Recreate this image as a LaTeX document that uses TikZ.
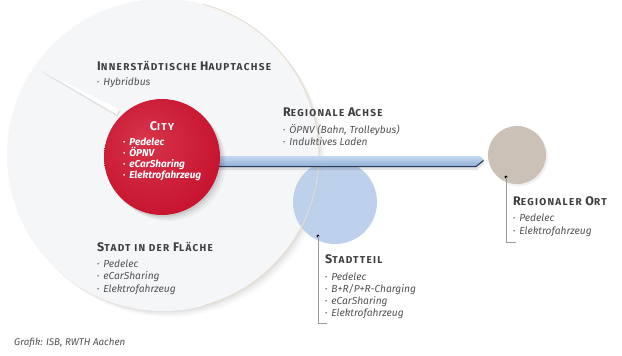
\documentclass[tikz,border=0pt]{standalone}
\usepackage{fontspec}
\setmainfont{Fira Sans}
\newfontfamily\headfont{Fira Sans}[LetterSpace=13]
\usetikzlibrary{calc}

\definecolor{cityred}{HTML}{C7132F}
\definecolor{citylight}{HTML}{D6354B}
\definecolor{citydark}{HTML}{A30D26}
\definecolor{teilblue}{HTML}{B8CDEA}
\definecolor{ortgray}{HTML}{CBC1B7}
\definecolor{headgray}{HTML}{3E3E3E}
\definecolor{itemgray}{HTML}{535353}
\definecolor{rimbeige}{HTML}{E6DCCD}
\definecolor{discfill}{HTML}{F4F6F8}
\definecolor{barlight}{HTML}{C6D8EF}
\definecolor{barmid}{HTML}{8CACD6}
\definecolor{bardark}{HTML}{2E3B52}
\definecolor{leadgray}{HTML}{9A9A9A}

\pgfdeclareradialshading{cityball}{\pgfpoint{-8bp}{8bp}}{%
  color(0bp)=(citylight); color(30bp)=(cityred); color(50bp)=(citydark)}

% faked small caps: large initial, smaller capitals
\newcommand\kap[2]{{\fontsize{12.5}{13}\selectfont #1}{\fontsize{10}{11}\selectfont #2}}
\newcommand\itm{\raisebox{0.15ex}{\scalebox{0.65}{•}}\hspace{0.4em}}

\begin{document}
\begin{tikzpicture}[x=1pt,y=-1pt,
  head/.style={anchor=base west, inner sep=0pt, text=headgray, font=\headfont\bfseries},
  item/.style={anchor=base west, inner sep=0pt, text=itemgray, font=\fontsize{10.2}{12}\selectfont\itshape},
  cityitem/.style={item, text=white, font=\fontsize{10}{12}\selectfont\bfseries\itshape},
  lead/.style={draw=leadgray, line width=0.6pt},
  dot/.style={circle, fill=black, inner sep=0pt, minimum size=3.4pt}]

\useasboundingbox (0,0) rectangle (622,356);
\fill[white] (0,0) rectangle (622,356);

% large disc: city area with soft shadow
\foreach \s/\o in {6/0.02,4.5/0.025,3/0.03,1.5/0.035}
  \fill[black, opacity=\o] (163+\s,155+\s) circle (156);
\fill[discfill] (163,155) circle (156);
\coordinate (disc) at (163,155);

% inner-city axis (needle)
\coordinate (ntip) at (42,71);
\fill[black, opacity=0.08] ($(ntip)+(1,2)$) -- (120.5,111.3) -- (117.5,116.7) -- cycle;
\fill[white] (ntip) -- (119.5,109.3) -- (116.5,114.7) -- cycle;
\draw[gray!25, line width=0.4pt] (ntip) -- (116.5,114.7);

% district circle
\node[circle, fill=teilblue, opacity=0.9, minimum size=84pt, inner sep=0pt] (teil) at (335,202) {};
% rim of the large disc, right side, over the district circle
\draw[rimbeige, line width=0.9pt] ($(disc)+(-75:156)$) arc (-75:75:156);

% regional axis bar
\fill[black, opacity=0.10] (215,159) -- (480,159) -- (485,163) -- (477,170) -- (215,170) -- cycle;
\shade[top color=barlight, bottom color=barmid] (215,156) -- (480,156) -- (484,160) -- (476,167) -- (215,167) -- cycle;
\draw[bardark, line width=1.1pt] (215,166.6) -- (476,166.6) -- (483.5,160.5);
\coordinate (bartip) at (484,160);

% city circle
\foreach \s/\o in {6/0.04,4/0.06,2/0.08}
  \fill[black, opacity=\o] (162+\s,157+\s) circle (58);
\shade[shading=cityball] (162,157) circle (58);
\node[circle, minimum size=116pt, inner sep=0pt] (city) at (162,157) {};

% regional place circle
\fill[black, opacity=0.06] (519,157) circle (29);
\node[circle, fill=ortgray, minimum size=58pt, inner sep=0pt] (ort) at (517,155) {};

% markers and leader lines
\node[dot] (teildot) at (318,236) {};
\node[dot] (ortdot) at (506,177) {};
\coordinate (teilcorner) at (318,323);
\coordinate (teilend) at (327,323);
\coordinate (ortcorner) at (506,242);
\coordinate (ortend) at (516,242);
\draw[lead] (teildot.center) -- (teilcorner) -- (teilend);
\draw[lead] (ortdot.center) -- (ortcorner) -- (ortend);

% labels
\node[head] (hauptachse) at (97,70) {\kap{I}{NNERSTÄDTISCHE} \kap{H}{AUPTACHSE}};
\node[item] (hauptachse-1) at (97,85.5) {\itm Hybridbus};

\node[head, anchor=base, text=white] (citytitle) at (162,130) {\kap{C}{ITY}};
\foreach \t [count=\i] in {Pedelec, ÖPNV, eCarSharing, Elektrofahrzeug}
  \node[cityitem] (city-\i) at (123,145.5+11*\i-11) {\itm\t};

\node[head] (achse) at (283,116) {\kap{R}{EGIONALE} \kap{A}{CHSE}};
\foreach \t [count=\i] in {ÖPNV (Bahn{,} Trolleybus), Induktives Laden}
  \node[item] (achse-\i) at (283,133+12.5*\i-12.5) {\itm\t};

\node[head] (orttitle) at (513,205) {\kap{R}{EGIONALER} \kap{O}{RT}};
\foreach \t [count=\i] in {Pedelec, Elektrofahrzeug}
  \node[item] (ort-\i) at (513,221+13*\i-13) {\itm\t};

\node[head] (teiltitle) at (325,263) {\kap{S}{TADTTEIL}};
\foreach \t [count=\i] in {Pedelec, B+R/P+R-Charging, eCarSharing, Elektrofahrzeug}
  \node[item] (teil-\i) at (325,280+12.2*\i-12.2) {\itm\t};

\node[head] (flaeche) at (97,251) {\kap{S}{TADT} \kap{}{IN} \kap{}{DER} \kap{F}{LÄCHE}};
\foreach \t [count=\i] in {Pedelec, eCarSharing, Elektrofahrzeug}
  \node[item] (flaeche-\i) at (97,267+12.5*\i-12.5) {\itm\t};

\node[item, font=\fontsize{9.8}{11}\selectfont\itshape] (credit) at (14,345) {Grafik: ISB, RWTH Aachen};
\end{tikzpicture}
\end{document}
